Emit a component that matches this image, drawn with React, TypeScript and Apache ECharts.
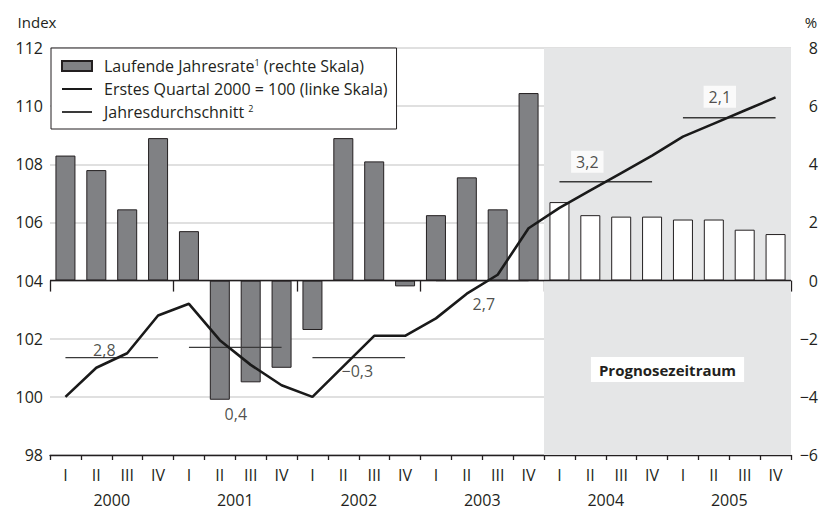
import React, { useEffect, useRef } from "react";
import * as echarts from "echarts";

const years = ["2000", "2001", "2002", "2003", "2004", "2005"];
const quarters = ["I", "II", "III", "IV"];
const categories = years.flatMap((y) => quarters.map((q) => `${y} ${q}`));

// Laufende Jahresrate (%), right scale
const barValues = [
  4.3, 3.8, 2.45, 4.9,
  1.7, -4.1, -3.5, -3.0,
  -1.7, 4.9, 4.1, -0.2,
  2.25, 3.55, 2.45, 6.45,
  2.7, 2.25, 2.2, 2.2,
  2.1, 2.1, 1.75, 1.6,
];

// Erstes Quartal 2000 = 100, left scale
const indexValues = [
  100.0, 101.0, 101.5, 102.8,
  103.2, 101.95, 101.1, 100.4,
  100.0, 101.05, 102.1, 102.1,
  102.7, 103.55, 104.2, 105.8,
  106.5, 107.1, 107.7, 108.3,
  108.95, 109.4, 109.85, 110.3,
];

// Jahresdurchschnitt (index level) and its growth-rate labels
const avgValues = [101.35, 101.7, 101.35, 104.0, 107.4, 109.6];
const avgLabels = ["2,8", "0,4", "−0,3", "2,7", "3,2", "2,1"];

const forecastStartIndex = 16; // 2004 I
const forecastLabel = "Prognosezeitraum";

const leftAxis = { min: 98, max: 112, interval: 2, name: "Index" };
const rightAxis = { min: -6, max: 8, interval: 2, name: "%" };

const seriesNames = [
  "Laufende Jahresrate (rechte Skala)",
  "Erstes Quartal 2000 = 100 (linke Skala)",
  "Jahresdurchschnitt",
];

// style only
const labelOffsets = [
  [8, -8],
  [16, 67],
  [14, 13],
  [17, 23],
  [-3, -20],
  [6, -21],
];
const labelBoxed = [false, false, false, false, true, true];

const FONT = "Open Sans";
const TXT = "#231f20";

export default function App() {
  const ref = useRef<HTMLDivElement>(null);

  useEffect(() => {
    if (!ref.current) return;
    const chart = echarts.init(ref.current, undefined, { renderer: "svg" });

    const minus = (v: number) => String(v).replace("-", "−");

    const avgSeries = years.map((_, k) => ({
      type: "line",
      name: seriesNames[2],
      xAxisIndex: 0,
      yAxisIndex: 0,
      symbol: "none",
      z: 4,
      lineStyle: { color: "#3a3a3a", width: 1.3 },
      itemStyle: { color: "#3a3a3a" },
      data: categories.map((_, i) => (Math.floor(i / 4) === k ? avgValues[k] : null)),
    }));

    const hiddenSymbol = { opacity: 0, color: "transparent", borderWidth: 0 };

    const option: any = {
      animation: false,
      textStyle: { fontFamily: FONT, color: TXT },
      grid: { left: 50, right: 41, top: 48, bottom: 57 },
      legend: {
        orient: "vertical",
        left: 51,
        top: 48,
        padding: [10, 9, 9, 10],
        itemGap: 7,
        itemWidth: 30,
        itemHeight: 10,
        backgroundColor: "#fff",
        borderColor: TXT,
        borderWidth: 1,
        selectedMode: false,
        data: [
          { name: seriesNames[0], icon: "rect" },
          { name: seriesNames[1], itemStyle: hiddenSymbol },
          { name: seriesNames[2], itemStyle: hiddenSymbol },
        ],
        formatter: (name: string) => {
          if (name === seriesNames[0]) return "Laufende Jahresrate{sup|1} (rechte Skala)";
          if (name === seriesNames[2]) return "Jahresdurchschnitt {sup|2}";
          return name;
        },
        textStyle: {
          fontFamily: FONT,
          fontSize: 16,
          color: TXT,
          padding: [0, 0, 0, 7],
          rich: { sup: { fontSize: 9, verticalAlign: "top", fontFamily: FONT, color: TXT } },
        },
      },
      xAxis: [
        {
          type: "category",
          data: categories,
          position: "bottom",
          boundaryGap: true,
          axisLine: { show: true, onZero: false, lineStyle: { color: TXT, width: 1.3 } },
          axisTick: { show: true, length: 5, interval: 0, lineStyle: { color: TXT, width: 1.3 } },
          axisLabel: {
            interval: 0,
            margin: 12,
            fontSize: 16,
            fontFamily: FONT,
            color: TXT,
            formatter: (v: string) => v.split(" ")[1],
          },
          splitLine: { show: false },
        },
        {
          type: "category",
          data: years,
          position: "bottom",
          boundaryGap: true,
          axisLine: { show: false },
          axisTick: { show: true, length: 11, interval: 0, lineStyle: { color: TXT, width: 1.3 } },
          axisLabel: { interval: 0, margin: 37, fontSize: 16, fontFamily: FONT, color: TXT },
          splitLine: { show: false },
        },
        { type: "value", min: 0, max: categories.length, show: false },
      ],
      yAxis: [
        {
          type: "value",
          position: "left",
          min: leftAxis.min,
          max: leftAxis.max,
          interval: leftAxis.interval,
          name: leftAxis.name,
          nameLocation: "end",
          nameGap: 19,
          nameTextStyle: { fontSize: 15, fontFamily: FONT, color: TXT, align: "center", padding: [0, 26, 0, 0] },
          axisLine: { show: false },
          axisTick: { show: false },
          axisLabel: { margin: 7, fontSize: 16, fontFamily: FONT, color: TXT },
          splitLine: { show: true, lineStyle: { color: "#d6d6d6", width: 1.5 } },
        },
        {
          type: "value",
          position: "right",
          min: rightAxis.min,
          max: rightAxis.max,
          interval: rightAxis.interval,
          name: rightAxis.name,
          nameLocation: "end",
          nameGap: 19,
          nameTextStyle: { fontSize: 15, fontFamily: FONT, color: TXT, align: "center", padding: [0, 0, 0, 40] },
          axisLine: { show: false },
          axisTick: { show: false },
          axisLabel: {
            margin: 27,
            align: "right",
            fontSize: 16,
            fontFamily: FONT,
            color: TXT,
            formatter: (v: number) => minus(v),
          },
          splitLine: { show: false },
        },
      ],
      series: [
        {
          type: "line",
          name: "__forecast",
          xAxisIndex: 2,
          yAxisIndex: 0,
          data: [],
          z: -1,
          silent: true,
          markArea: {
            silent: true,
            itemStyle: { color: "#e5e6e7" },
            label: {
              show: true,
              position: "inside",
              offset: [0, 118],
              formatter: forecastLabel,
              fontFamily: FONT,
              fontSize: 15,
              fontWeight: "bold",
              color: TXT,
              backgroundColor: "#fff",
              padding: [5, 8, 5, 8],
            },
            data: [[{ xAxis: forecastStartIndex }, { xAxis: categories.length }]],
          },
        },
        {
          type: "bar",
          name: seriesNames[0],
          xAxisIndex: 0,
          yAxisIndex: 1,
          barWidth: 20,
          itemStyle: { color: "#808184", borderColor: TXT, borderWidth: 1 },
          data: barValues.map((v, i) =>
            i >= forecastStartIndex ? { value: v, itemStyle: { color: "#ffffff" } } : v
          ),
          markLine: {
            silent: true,
            symbol: ["none", "none"],
            label: { show: false },
            lineStyle: { color: TXT, width: 1.4, type: "solid" },
            data: [{ yAxis: 0 }],
          },
        },
        {
          type: "line",
          name: seriesNames[1],
          xAxisIndex: 0,
          yAxisIndex: 0,
          symbol: "none",
          z: 5,
          lineStyle: { color: "#1a1a1a", width: 2.6 },
          itemStyle: { color: "#1a1a1a" },
          data: indexValues,
        },
        ...avgSeries,
        {
          type: "scatter",
          name: "__avgLabels",
          xAxisIndex: 0,
          yAxisIndex: 0,
          symbolSize: 1,
          z: 6,
          itemStyle: { color: "rgba(0,0,0,0)" },
          silent: true,
          data: avgValues.map((v, k) => ({
            value: [categories[4 * k + 1], v],
            label: {
              show: true,
              position: "inside",
              offset: labelOffsets[k],
              formatter: avgLabels[k],
              fontFamily: FONT,
              fontSize: 16,
              color: TXT,
              backgroundColor: labelBoxed[k] ? "#fff" : "transparent",
              padding: labelBoxed[k] ? [3, 5, 3, 5] : 0,
            },
          })),
        },
      ],
    };

    chart.setOption(option);
    return () => chart.dispose();
  }, []);

  return (
    <div
      ref={ref}
      style={{ position: "fixed", left: 0, top: 0, width: 832, height: 512, background: "#fff" }}
    />
  );
}
